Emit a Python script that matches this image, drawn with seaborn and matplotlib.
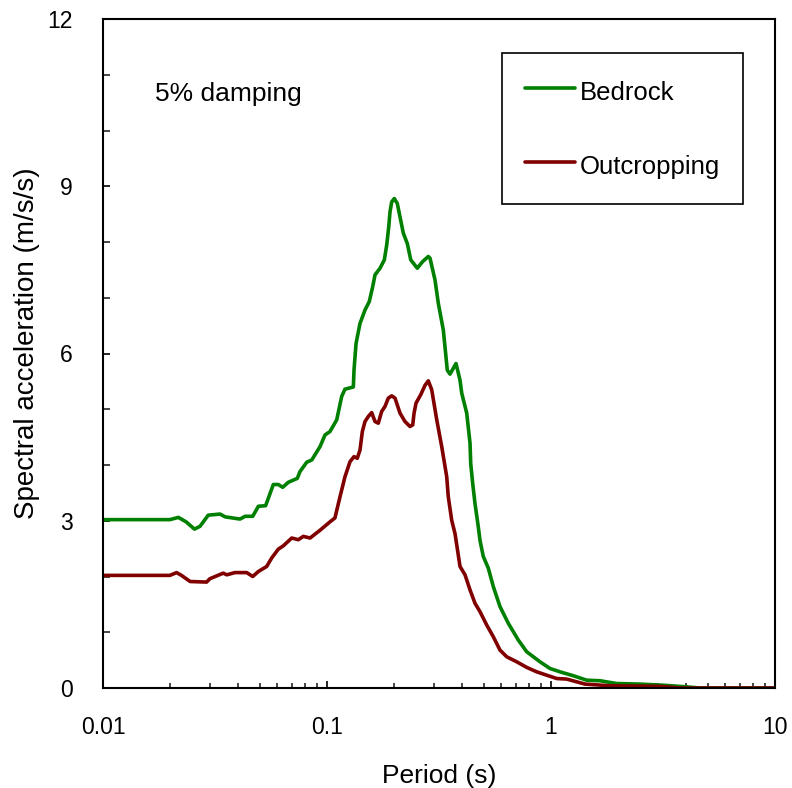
import numpy as np
import pandas as pd
import matplotlib
matplotlib.use("Agg")
import matplotlib.pyplot as plt
import seaborn as sns
from matplotlib.ticker import FixedLocator, FixedFormatter, MultipleLocator, LogLocator, NullFormatter

# ---------------- data ----------------
period_bedrock = [0.0100, 0.0199, 0.0217, 0.0235, 0.0256, 0.0271, 0.0295, 0.0333, 0.0351,
                  0.0409, 0.0431, 0.0466, 0.0494, 0.0532, 0.0576, 0.0606, 0.0634, 0.0672,
                  0.0737, 0.0757, 0.0812, 0.0855, 0.0931, 0.0980, 0.1031, 0.1105, 0.1163,
                  0.1203, 0.1311, 0.1320, 0.1348, 0.1404, 0.1478, 0.1544, 0.1600, 0.1638,
                  0.1725, 0.1803, 0.1848, 0.1886, 0.1911, 0.1945, 0.1997, 0.2060, 0.2118,
                  0.2191, 0.2284, 0.2365, 0.2530, 0.2674, 0.2833, 0.2883, 0.3035, 0.3140,
                  0.3306, 0.3444, 0.3541, 0.3767, 0.3925, 0.3994, 0.4205, 0.4350, 0.4381,
                  0.4471, 0.4578, 0.4736, 0.4819, 0.4985, 0.5249, 0.5526, 0.5920, 0.6449,
                  0.7145, 0.7789, 0.8931, 0.9897, 1.097, 1.258, 1.443, 1.655, 1.965,
                  2.496, 3.172, 4.035, 4.62, 10.0]
sa_bedrock = [3.02, 3.02, 3.06, 2.98, 2.85, 2.90, 3.10, 3.12, 3.07,
              3.03, 3.08, 3.08, 3.26, 3.27, 3.65, 3.65, 3.60, 3.69,
              3.76, 3.88, 4.05, 4.09, 4.33, 4.54, 4.60, 4.81, 5.23,
              5.36, 5.40, 5.70, 6.18, 6.54, 6.78, 6.93, 7.20, 7.41,
              7.53, 7.68, 7.95, 8.27, 8.54, 8.72, 8.78, 8.69, 8.45,
              8.16, 7.97, 7.68, 7.53, 7.65, 7.74, 7.71, 7.32, 6.90,
              6.42, 5.70, 5.63, 5.82, 5.52, 5.29, 4.93, 4.39, 4.03,
              3.67, 3.31, 2.89, 2.65, 2.36, 2.15, 1.82, 1.46, 1.16,
              0.86, 0.65, 0.47, 0.35, 0.29, 0.22, 0.14, 0.13, 0.08,
              0.07, 0.05, 0.02, 0.0, 0.0]

period_outcrop = [0.0100, 0.0199, 0.0213, 0.0224, 0.0245, 0.0290, 0.0300, 0.0344, 0.0357,
                  0.0388, 0.0438, 0.0466, 0.0494, 0.0538, 0.0566, 0.0606, 0.0638, 0.0696,
                  0.0745, 0.0784, 0.0840, 0.0931, 0.1031, 0.1085, 0.1143, 0.1203, 0.1267,
                  0.1320, 0.1365, 0.1404, 0.1438, 0.1478, 0.1529, 0.1583, 0.1638, 0.1694,
                  0.1754, 0.1815, 0.1878, 0.1945, 0.2012, 0.2118, 0.2229, 0.2348, 0.2414,
                  0.2447, 0.2497, 0.2620, 0.2739, 0.2833, 0.2934, 0.3090, 0.3252, 0.3423,
                  0.3479, 0.3603, 0.3728, 0.3925, 0.4132, 0.4350, 0.4578, 0.4819, 0.5163,
                  0.5526, 0.5920, 0.6343, 0.7030, 0.7789, 0.8633, 0.9726, 1.061, 1.175,
                  1.418, 1.834, 3.066, 3.77, 10.0]
sa_outcrop = [2.02, 2.02, 2.07, 2.02, 1.91, 1.90, 1.96, 2.06, 2.03,
              2.07, 2.07, 2.00, 2.09, 2.18, 2.33, 2.49, 2.55, 2.69,
              2.66, 2.72, 2.69, 2.83, 2.98, 3.05, 3.43, 3.79, 4.06,
              4.15, 4.12, 4.27, 4.60, 4.78, 4.87, 4.94, 4.78, 4.75,
              4.96, 5.05, 5.20, 5.24, 5.20, 4.93, 4.78, 4.69, 4.72,
              4.93, 5.11, 5.26, 5.43, 5.51, 5.35, 4.81, 4.33, 3.79,
              3.43, 3.01, 2.77, 2.18, 2.03, 1.76, 1.52, 1.37, 1.13,
              0.92, 0.68, 0.56, 0.47, 0.37, 0.29, 0.22, 0.17, 0.16,
              0.07, 0.04, 0.03, 0.0, 0.0]

series_names = ["Bedrock", "Outcropping"]
series_colors = ["#008000", "#800000"]
x_tick_values = [0.01, 0.1, 1, 10]
x_tick_labels = ["0.01", "0.1", "1", "10"]
y_tick_values = [0, 3, 6, 9, 12]
annotation_text = "5% damping"
x_label = "Period (s)"
y_label = "Spectral acceleration (m/s/s)"

df = pd.concat([
    pd.DataFrame({"Period": period_bedrock, "SA": sa_bedrock, "Motion": series_names[0]}),
    pd.DataFrame({"Period": period_outcrop, "SA": sa_outcrop, "Motion": series_names[1]}),
], ignore_index=True)

# ---------------- style ----------------
sns.set_style("white")
plt.rcParams["font.family"] = ["Liberation Sans", "DejaVu Sans"]
plt.rcParams["text.color"] = "black"
plt.rcParams["axes.labelcolor"] = "black"

fig = plt.figure(figsize=(7.92, 7.88), dpi=100)
ax = fig.add_axes([103 / 792, 1 - 688 / 788, 672 / 792, 669 / 788])

LW = 2.6
sns.lineplot(data=df, x="Period", y="SA", hue="Motion",
             palette=dict(zip(series_names, series_colors)),
             hue_order=series_names, estimator=None, sort=False,
             linewidth=LW, ax=ax, legend=True)

ax.set_xscale("log")
ax.set_xlim(0.01, 10)
ax.set_ylim(0, 12)

ax.xaxis.set_major_locator(FixedLocator(x_tick_values))
ax.xaxis.set_major_formatter(FixedFormatter(x_tick_labels))
ax.xaxis.set_minor_locator(LogLocator(base=10, subs=np.arange(2, 10)))
ax.xaxis.set_minor_formatter(NullFormatter())
ax.yaxis.set_major_locator(FixedLocator(y_tick_values))
ax.yaxis.set_minor_locator(MultipleLocator(1))

for s in ax.spines.values():
    s.set_visible(True)
    s.set_color("black")
    s.set_linewidth(1.5)

ax.tick_params(axis="x", which="major", direction="in", length=5, width=1.2,
               labelsize=16.5, pad=20, colors="black", bottom=True, top=False)
ax.tick_params(axis="x", which="minor", direction="in", length=3.5, width=1.2,
               bottom=True, top=False)
ax.tick_params(axis="y", which="major", direction="in", length=5, width=1.2,
               labelsize=16.5, pad=22, colors="black", left=True, right=False)
ax.tick_params(axis="y", which="minor", direction="in", length=5, width=1.2,
               left=True, right=False)

ax.set_xlabel(x_label, fontsize=19, color="black")
ax.set_ylabel(y_label, fontsize=20, color="black")
ax.xaxis.set_label_coords(0.5, -0.113)
ax.yaxis.set_label_coords(-0.094, 0.515)

ax.text((155 - 103) / 672, (688 - 100.7) / 669, annotation_text, transform=ax.transAxes,
        fontsize=19, ha="left", va="baseline", color="black")

handles, labels = ax.get_legend_handles_labels()
for h in handles:
    h.set_linewidth(LW)
leg = ax.legend(handles, labels, loc="upper left",
                bbox_to_anchor=((501.7 - 103) / 672, (688 - 53.3) / 669),
                borderaxespad=0, frameon=True, fancybox=False, framealpha=1,
                edgecolor="black", fontsize=18.5, borderpad=0.9, labelspacing=1.72,
                handlelength=1.95, handleheight=1.42, handletextpad=0.2, title=None,
                labelcolor="black")
leg.get_frame().set_linewidth(1.2)

fig.savefig("out.png", dpi=100)
